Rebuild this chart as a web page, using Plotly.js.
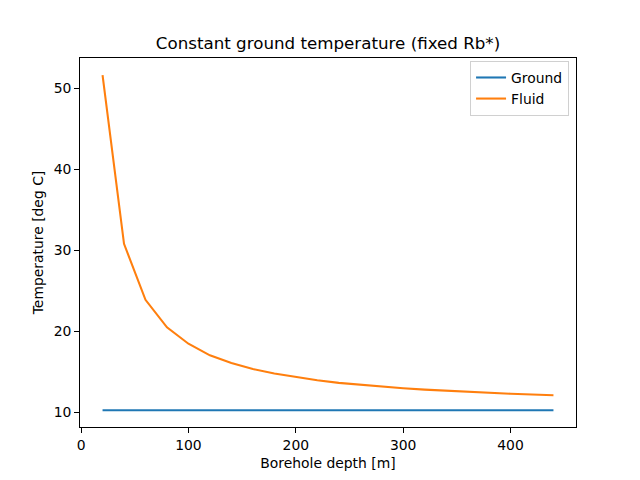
<!DOCTYPE html>
<html>
<head>
<meta charset="utf-8">
<script src="https://cdn.plot.ly/plotly-3.0.1.min.js"></script>
<style>html,body{margin:0;padding:0;background:#fff;}#chart{width:640px;height:480px;}</style>
</head>
<body>
<div id="chart"></div>
<script>
const depths = [20, 40, 60, 80, 100, 120, 140, 160, 180, 200, 220, 240, 260, 280, 300, 320, 340, 360, 380, 400, 420, 440];
const groundTemp = [10.28, 10.28, 10.28, 10.28, 10.28, 10.28, 10.28, 10.28, 10.28, 10.28, 10.28, 10.28, 10.28, 10.28, 10.28, 10.28, 10.28, 10.28, 10.28, 10.28, 10.28, 10.28];
const fluidTemp = [51.6, 30.8, 23.9, 20.5, 18.48, 17.05, 16.1, 15.36, 14.8, 14.35, 13.97, 13.65, 13.40, 13.18, 12.99, 12.82, 12.67, 12.54, 12.42, 12.31, 12.21, 12.13];
const xTicks = [0, 100, 200, 300, 400];
const yTicks = [10, 20, 30, 40, 50];

const font = {family: 'DejaVu Sans', size: 13.9, color: '#000'};
const traces = [
  {x: depths, y: groundTemp, name: 'Ground', mode: 'lines', line: {color: '#1f77b4', width: 2.08}},
  {x: depths, y: fluidTemp, name: 'Fluid', mode: 'lines', line: {color: '#ff7f0e', width: 2.08}}
];
const axisCommon = {
  showgrid: false, zeroline: false, showline: true, linecolor: '#000', linewidth: 1,
  mirror: true, ticks: 'outside', ticklen: 4.9, tickwidth: 1, tickcolor: '#000',
  tickfont: font
};
const layout = {
  width: 640, height: 480,
  margin: {l: 80, r: 64, t: 58, b: 53},
  paper_bgcolor: '#fff', plot_bgcolor: '#fff',
  font: font,
  title: {text: 'Constant ground temperature (fixed Rb*)', font: {family: 'DejaVu Sans', size: 16.7, color: '#000'}, xref: 'paper', x: 0.5, xanchor: 'center', yref: 'container', y: 1 - 43/480, yanchor: 'middle'},
  xaxis: Object.assign({}, axisCommon, {range: [-1, 461], tickvals: xTicks, ticktext: xTicks.map(String), title: {text: 'Borehole depth [m]', font: font, standoff: 6}}),
  yaxis: Object.assign({}, axisCommon, {range: [8.21, 53.72], tickvals: yTicks, ticktext: yTicks.map(String), title: {text: 'Temperature [deg C]', font: font, standoff: 6}}),
  showlegend: true,
  legend: {x: 0.986, y: 0.992, xanchor: 'right', yanchor: 'top', bgcolor: 'rgba(255,255,255,0.8)', bordercolor: '#d0d0d0', borderwidth: 1, font: font, itemwidth: 30}
};
Plotly.newPlot('chart', traces, layout, {displayModeBar: false, staticPlot: true});
</script>
</body>
</html>
